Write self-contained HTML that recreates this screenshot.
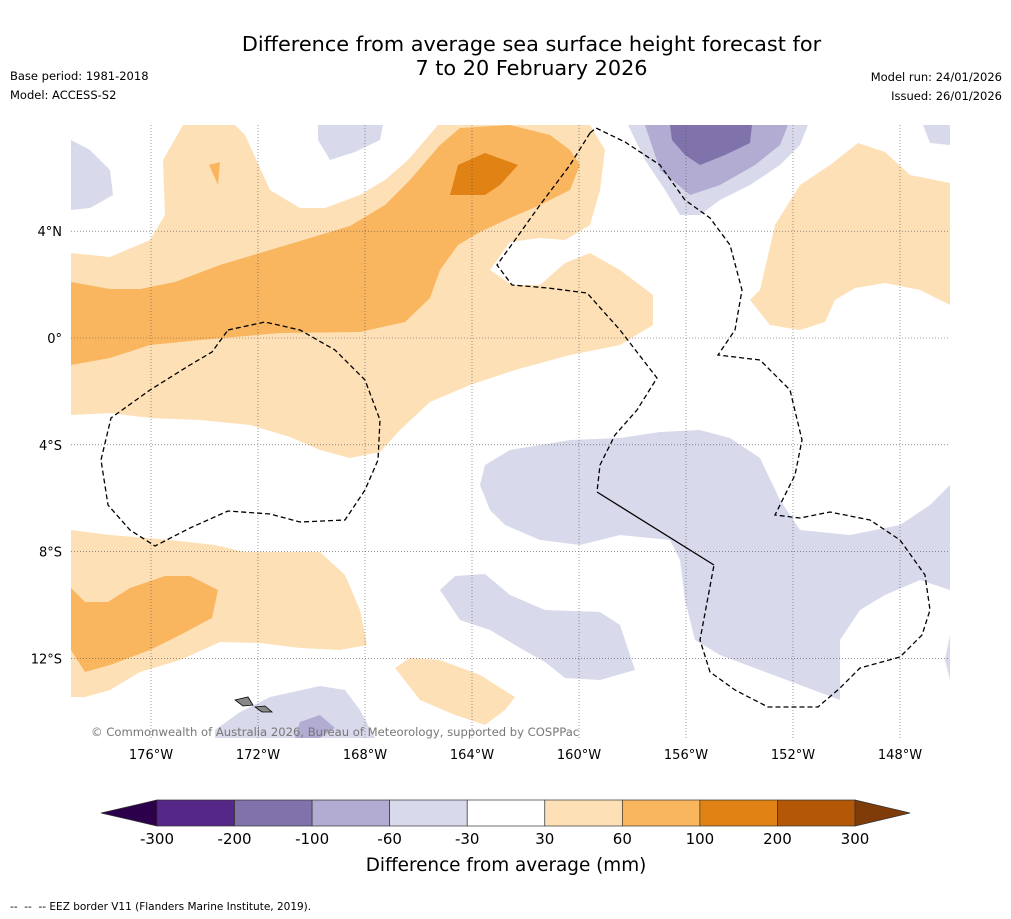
<!DOCTYPE html>
<html><head><meta charset="utf-8">
<style>
body{margin:0;background:#fff;font-family:"DejaVu Sans",sans-serif;}
#wrap{position:relative;width:1011px;height:919px;overflow:hidden;background:#fff}
.t{position:absolute;font-size:11.5px;color:#000;white-space:nowrap}
</style></head><body>
<div id="wrap">
<div class="t" style="left:0;width:1063px;top:32px;text-align:center;font-size:20.8px;line-height:24px">Difference from average sea surface height forecast for<br>7 to 20 February 2026</div>
<div class="t" style="left:10px;top:69px">Base period: 1981-2018</div>
<div class="t" style="left:10px;top:88px">Model: ACCESS-S2</div>
<div class="t" style="right:9px;top:70px;text-align:right">Model run: 24/01/2026</div>
<div class="t" style="right:9px;top:89px;text-align:right">Issued: 26/01/2026</div>
<div class="t" style="left:10px;top:901px;font-size:10.5px">-- &nbsp;-- &nbsp;-- EEZ border V11 (Flanders Marine Institute, 2019).</div>
<svg id="svg" width="1011" height="919" style="position:absolute;left:0;top:0">
<defs><clipPath id="mc"><rect x="71" y="125" width="879" height="613"/></clipPath></defs>
<g id="map" clip-path="url(#mc)">
<polygon fill="#fde0b6" points="71,253 110,257 150,240 165,215 163,160 183,125 235,125 245,135 270,190 300,208 325,208 360,195 385,180 408,160 438,125 590,125 605,150 600,190 590,225 565,240 540,238 510,242 490,270 512,285 540,285 565,263 590,253 620,270 653,295 653,325 620,345 570,355 515,370 470,385 430,402 400,430 380,452 350,458 320,450 290,437 250,425 200,420 150,418 110,413 71,415"/>
<polygon fill="#fab65f" points="71,282 110,289 140,289 175,282 220,265 270,250 310,238 350,226 385,205 410,180 440,145 460,128 510,125 550,135 570,150 580,165 570,190 540,205 510,218 480,232 458,245 440,270 430,298 405,322 360,332 280,333 200,340 150,345 110,358 71,365"/>
<polygon fill="#e08214" points="450,195 458,165 485,153 518,165 500,185 485,195"/>
<polygon fill="#fab65f" points="209,165 220,162 218,185"/>
<polygon fill="#fde0b6" points="760,290 775,225 800,185 830,165 858,143 885,152 910,175 950,183 950,305 920,290 885,283 855,288 835,300 825,322 800,330 770,325 750,300"/>
<polygon fill="#d8daeb" points="628,125 808,125 800,145 780,165 750,185 720,200 700,215 680,215 665,190 645,160"/>
<polygon fill="#b2abd2" points="645,125 788,125 780,145 755,165 720,185 690,195 660,170"/>
<polygon fill="#8073ac" points="670,125 752,125 750,143 725,155 700,165 685,155 672,140"/>
<polygon fill="#d8daeb" points="71,140 90,150 110,170 113,195 90,208 71,210"/>
<polygon fill="#d8daeb" points="318,125 383,125 380,140 355,152 330,160 318,140"/>
<polygon fill="#d8daeb" points="923,125 950,125 950,145 930,143"/>
<polygon fill="#d8daeb" points="480,485 485,465 510,450 570,440 620,438 660,432 700,430 730,438 760,458 780,500 800,530 850,535 900,525 930,505 950,485 950,590 920,580 885,595 860,610 840,640 840,700 800,685 760,670 720,655 695,640 685,600 680,560 670,540 620,535 580,545 540,540 505,525 490,510"/>
<polygon fill="#d8daeb" points="440,590 455,576 485,574 510,595 545,610 600,612 620,625 635,670 600,680 565,678 545,662 520,648 490,630 460,620"/>
<polygon fill="#d8daeb" points="950,635 945,660 950,680"/>
<polygon fill="#fde0b6" points="71,530 110,535 170,540 215,545 245,552 320,552 345,575 360,610 367,645 340,650 300,648 260,643 220,642 180,660 140,672 110,690 85,697 71,697"/>
<polygon fill="#fab65f" points="71,588 85,602 108,602 130,588 165,576 190,576 218,590 212,618 180,635 150,650 110,665 85,672 71,650"/>
<polygon fill="#fde0b6" points="395,668 410,658 440,660 480,675 515,697 505,710 485,725 455,715 420,700"/>
<polygon fill="#d8daeb" points="215,730 240,712 270,697 320,686 345,690 360,710 375,738 215,738"/>
<polygon fill="#b2abd2" points="300,722 320,715 335,728 320,738 295,738"/>
<g id="grid"></g>
<polyline fill="none" stroke="#000" stroke-width="1.3" stroke-dasharray="5,3" points="228,330 265,322 300,330 335,350 365,380 380,420 378,460 365,490 345,520 300,522 270,514 228,511 190,528 155,546 130,530 108,505 101,460 111,418 150,390 190,365 212,352 228,330"/>
<polyline fill="none" stroke="#000" stroke-width="1.3" stroke-dasharray="5,3" points="590,133 596,128 625,142 660,165 685,200 710,218 730,245 742,290 735,330 718,355 760,360 790,390 802,440 795,475 775,515 800,518 830,512 870,520 900,540 925,575 930,610 922,635 900,657 860,668 840,688 818,707 768,707 735,690 710,672 700,640 714,565"/>
<polyline fill="none" stroke="#000" stroke-width="1.3" stroke-dasharray="5,3" points="590,133 570,165 540,205 515,240 497,265 512,285 548,288 587,293 620,330 657,378 637,410 615,435 600,465 597,492"/>
<line x1="597" y1="492" x2="714" y2="565" stroke="#000" stroke-width="1.3"/>
<polygon fill="#888" stroke="#000" stroke-width="0.8" points="235,700 248,697 253,705 243,706"/>
<polygon fill="#888" stroke="#000" stroke-width="0.8" points="255,707 265,706 272,712 262,712"/>
</g>
<text x="91" y="736" font-size="11.6" fill="#777" font-family="DejaVu Sans">© Commonwealth of Australia 2026, Bureau of Meteorology, supported by COSPPac</text>
<g id="axes"></g>
<g id="cbar"></g>
<text x="506" y="871" font-size="18.4" text-anchor="middle" font-family="DejaVu Sans">Difference from average (mm)</text>
</svg>
</div>
<script>
const lonTicks=[176,172,168,164,160,156,152,148];
const latTicks=[4,0,-4,-8,-12];
const cbarBounds=[-300,-200,-100,-60,-30,30,60,100,200,300];
const cbarColors=["#542788","#8073ac","#b2abd2","#d8daeb","#ffffff","#fde0b6","#fab65f","#e08214","#b35806"];
const cbarEnds=["#2d004b","#7f3b08"];
const NS="http://www.w3.org/2000/svg";
function xLon(w){return 151+(176-w)*26.75;}
function yLat(l){return 338-l*26.7;}
function mk(t,a,p){const e=document.createElementNS(NS,t);for(const k in a)e.setAttribute(k,a[k]);p.appendChild(e);return e;}
const grid=document.getElementById('grid'),axes=document.getElementById('axes');
lonTicks.forEach(w=>{const x=xLon(w);
 const l=mk('line',{x1:x,x2:x,y1:125,y2:738,stroke:'#555','stroke-width':0.6,'stroke-dasharray':'1,2'},grid);
 
 
 const t=mk('text',{x:x,y:759,'font-size':13,'text-anchor':'middle','font-family':'DejaVu Sans'},axes);t.textContent=w+'°W';
 
 });
latTicks.forEach(v=>{const y=yLat(v);
 const l=mk('line',{x1:71,x2:950,y1:y,y2:y,stroke:'#555','stroke-width':0.6,'stroke-dasharray':'1,2'},grid);
 
 
 const t=mk('text',{x:62,y:y+5,'font-size':13,'text-anchor':'end','font-family':'DejaVu Sans'},axes);
 t.textContent=v===0?'0°':Math.abs(v)+'°'+(v>0?'N':'S');
 
 });
const cb=document.getElementById('cbar');const x0=157,x1=855,y0=800,h=26;
const n=cbarColors.length,bw=(x1-x0)/n;
function xc(i){return x0+i*bw;}
cbarColors.forEach((c,i)=>{const r=mk('rect',{x:xc(i),y:y0,width:bw,height:h,fill:c,stroke:'#333','stroke-width':0.7},cb);
 
 });
const lt=mk('polygon',{points:`${x0},${y0} ${x0},${y0+h} 101,${y0+h/2}`,fill:cbarEnds[0],stroke:'#333','stroke-width':0.7},cb);


const rt=mk('polygon',{points:`${x1},${y0} ${x1},${y0+h} 910,${y0+h/2}`,fill:cbarEnds[1],stroke:'#333','stroke-width':0.7},cb);


cbarBounds.forEach((b,i)=>{const t=mk('text',{x:xc(i),y:844,'font-size':15,'text-anchor':'middle','font-family':'DejaVu Sans'},cb);t.textContent=b;
 
 });
</script>
</body></html>
